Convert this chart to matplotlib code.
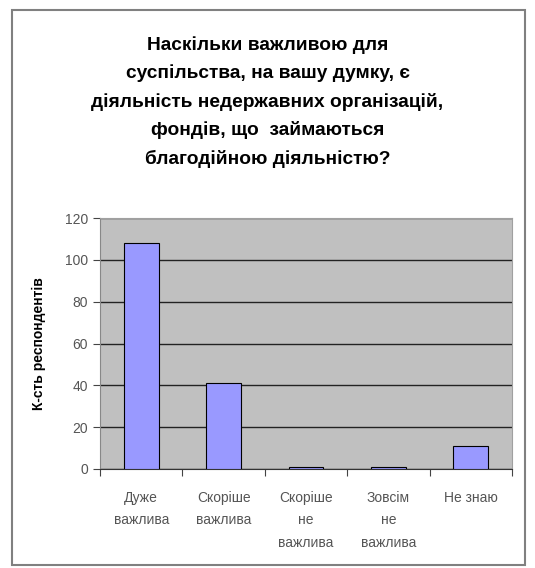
import numpy as np
import matplotlib
matplotlib.use('Agg')
import matplotlib.pyplot as plt
from matplotlib.patches import Rectangle

# data
categories = ['Дуже\nважлива', 'Скоріше\nважлива', 'Скоріше\nне\nважлива',
              'Зовсім\nне\nважлива', 'Не знаю']
values = [108, 41, 1, 1, 11]
y_ticks = [0, 20, 40, 60, 80, 100, 120]

title = ('Наскільки важливою для\nсуспільства, на вашу думку, є\n'
         'діяльність недержавних організацій,\nфондів, що  займаються\n'
         'благодійною діяльністю?')

plt.rcParams['font.family'] = ['Liberation Sans', 'DejaVu Sans']

fig = plt.figure(figsize=(5.35, 5.68), dpi=100)
fig.patch.set_facecolor('white')

# outer chart frame
fig.patches.append(Rectangle((12 / 535, 1 - 565 / 568), 513 / 535, 555 / 568,
                             transform=fig.transFigure, fill=False,
                             edgecolor='#808080', linewidth=1.5))

ax = fig.add_axes([100 / 535, 1 - 469 / 568, 412 / 535, 251 / 568])
ax.set_facecolor('#c0c0c0')

x = np.arange(len(categories))
ax.bar(x, values, width=0.42, color='#9999ff', edgecolor='black', linewidth=0.8, zorder=3)

ax.set_xlim(-0.5, len(categories) - 0.5)
ax.set_ylim(0, 120)
ax.set_yticks(y_ticks)
ax.set_yticklabels([str(v) for v in y_ticks], fontsize=10, color='#555555')
ax.yaxis.grid(True, color='#222222', linewidth=1.0, zorder=1)
ax.set_axisbelow(True)

# ticks between the categories, labels at centres
ax.set_xticks(np.arange(-0.5, len(categories), 1.0))
ax.set_xticklabels([])
ax.set_xticks(x, minor=True)
ax.set_xticklabels(categories, minor=True, fontsize=10, color='#555555', linespacing=1.75)
ax.tick_params(axis='x', which='minor', length=0, pad=16)
ax.tick_params(axis='x', which='major', length=5, direction='out', color='#444444')
ax.tick_params(axis='y', length=5, direction='out', color='#444444')

for side in ['top', 'right']:
    ax.spines[side].set_color('#a0a0a0')
ax.spines['left'].set_color('#888888')
ax.spines['bottom'].set_color('#333333')

ax.set_ylabel('К-сть респондентів', fontsize=10, fontweight='bold', labelpad=14)

fig.text(0.5, 1 - 36 / 568, title, ha='center', va='top', fontsize=13.8,
         fontweight='bold', linespacing=1.76)

fig.savefig('out.png', dpi=100)
